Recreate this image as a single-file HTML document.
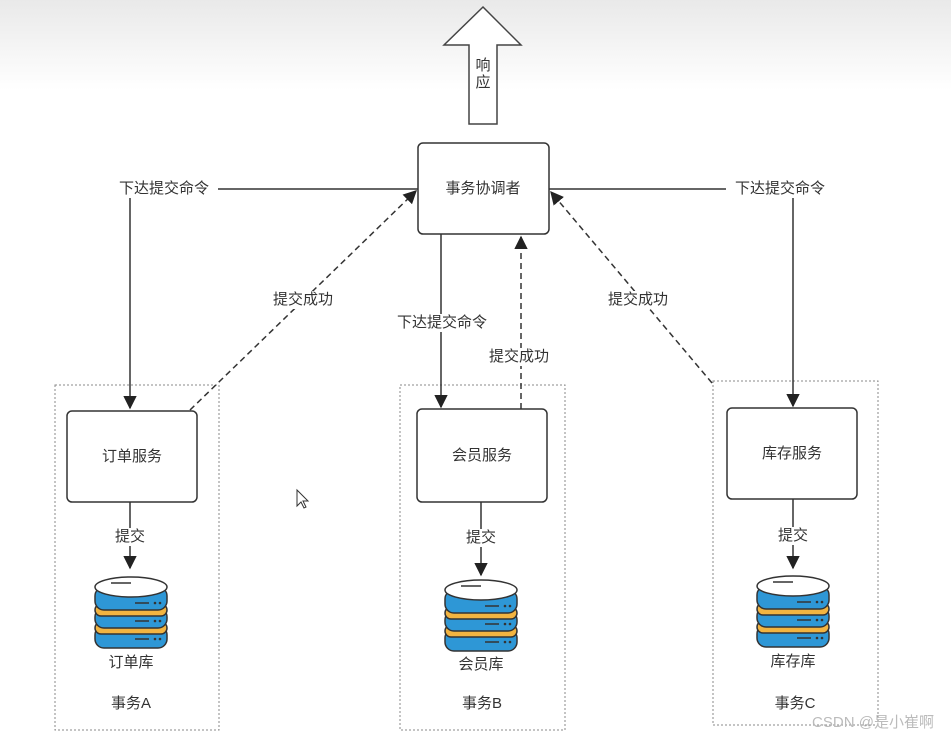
<!DOCTYPE html>
<html><head><meta charset="utf-8"><style>
body{margin:0;width:951px;height:743px;overflow:hidden;background:#fff}
svg{display:block}
text{font-family:"Liberation Sans","Noto Sans CJK SC",sans-serif;font-size:15px;fill:#333;text-anchor:middle;dominant-baseline:middle}
</style></head><body>
<svg width="951" height="743" viewBox="0 0 951 743">
<defs>
<linearGradient id="bg" x1="0" y1="0" x2="0" y2="1"><stop offset="0" stop-color="#e9e9e9"/><stop offset="1" stop-color="#fff"/></linearGradient>
<marker id="ar" viewBox="0 0 10 10" refX="9" refY="5" markerWidth="9" markerHeight="9" orient="auto"><path d="M0,0L10,5L0,10z" fill="#222"/></marker>
<g id="db">
<rect x="-36" y="14" width="72" height="22" rx="9" fill="#2e97d6" stroke="#333" stroke-width="1.5"/>
<rect x="-36" y="10" width="72" height="12" rx="6" fill="#f2b441" stroke="#333" stroke-width="1.5"/>
<rect x="-36" y="-4" width="72" height="20" rx="9" fill="#2e97d6" stroke="#333" stroke-width="1.5"/>
<rect x="-36" y="-8" width="72" height="12" rx="6" fill="#f2b441" stroke="#333" stroke-width="1.5"/>
<rect x="-36" y="-25" width="72" height="23" rx="9" fill="#2e97d6" stroke="#333" stroke-width="1.5"/>
<ellipse cx="0" cy="-25" rx="36" ry="10" fill="#fff" stroke="#333" stroke-width="1.5"/>
<path d="M-20,-29h20M4,-9h14M4,9h14M4,27h14" stroke="#333" stroke-width="1.5"/>
<circle cx="24" cy="-9" r="1.3" fill="#333"/><circle cx="29" cy="-9" r="1.3" fill="#333"/>
<circle cx="24" cy="9" r="1.3" fill="#333"/><circle cx="29" cy="9" r="1.3" fill="#333"/>
<circle cx="24" cy="27" r="1.3" fill="#333"/><circle cx="29" cy="27" r="1.3" fill="#333"/>
</g>
</defs>
<rect width="951" height="90" fill="url(#bg)"/>
<path d="M483,7L521,45H497V124H469V45H444Z" fill="#fff" stroke="#444" stroke-width="1.5"/>
<text x="483" y="66">响</text><text x="483" y="83">应</text>
<g fill="none" stroke-dasharray="2,2" stroke="#888">
<rect x="55" y="385" width="164" height="345"/>
<rect x="400" y="385" width="165" height="345"/>
<rect x="713" y="381" width="165" height="344"/>
</g>
<g stroke="#333" stroke-width="1.5" fill="#fff">
<rect x="418" y="143" width="131" height="91" rx="5"/>
<rect x="67" y="411" width="130" height="91" rx="5"/>
<rect x="417" y="409" width="130" height="93" rx="5"/>
<rect x="727" y="408" width="130" height="91" rx="5"/>
</g>
<g stroke="#333" stroke-width="1.5" fill="none">
<path d="M418,189H130V408" marker-end="url(#ar)"/>
<path d="M549,189H793V406" marker-end="url(#ar)"/>
<path d="M441,234V407" marker-end="url(#ar)"/>
<path d="M130,502V568" marker-end="url(#ar)"/>
<path d="M481,502V575" marker-end="url(#ar)"/>
<path d="M793,499V568" marker-end="url(#ar)"/>
<g stroke-dasharray="6,4">
<path d="M190,410L416,191" marker-end="url(#ar)"/>
<path d="M521,409V237" marker-end="url(#ar)"/>
<path d="M712,383L551,192" marker-end="url(#ar)"/>
</g>
</g>
<g>
<rect x="110" y="180" width="108" height="18" fill="#fff"/><text x="164" y="189">下达提交命令</text>
<rect x="726" y="180" width="108" height="18" fill="#fff"/><text x="780" y="189">下达提交命令</text>
<rect x="388" y="314" width="108" height="18" fill="#fff"/><text x="442" y="323">下达提交命令</text>
<rect x="270" y="291" width="66" height="18" fill="#fff"/><text x="303" y="300">提交成功</text>
<rect x="605" y="291" width="66" height="18" fill="#fff"/><text x="638" y="300">提交成功</text>
<rect x="484" y="348" width="72" height="18" fill="#fff"/><text x="519" y="357">提交成功</text>
<text x="483" y="189">事务协调者</text>
<text x="132" y="457">订单服务</text>
<text x="482" y="456">会员服务</text>
<text x="792" y="454">库存服务</text>
<rect x="110" y="528" width="40" height="18" fill="#fff"/><text x="130" y="537">提交</text>
<rect x="461" y="529" width="40" height="18" fill="#fff"/><text x="481" y="538">提交</text>
<rect x="773" y="527" width="40" height="18" fill="#fff"/><text x="793" y="536">提交</text>
</g>
<use href="#db" x="131" y="612"/>
<use href="#db" x="481" y="615"/>
<use href="#db" x="793" y="611"/>
<text x="131" y="663">订单库</text><text x="481" y="665">会员库</text><text x="793" y="662">库存库</text>
<text x="131" y="704">事务A</text><text x="482" y="704">事务B</text><text x="795" y="704">事务C</text>
<path d="M297,490v16l4,-4l3,6l2,-1l-3,-6h5z" fill="#fff" stroke="#333"/>
<text x="873" y="723" style="fill:#bbb;font-size:15px">CSDN @是小崔啊</text>
</svg>
</body></html>
